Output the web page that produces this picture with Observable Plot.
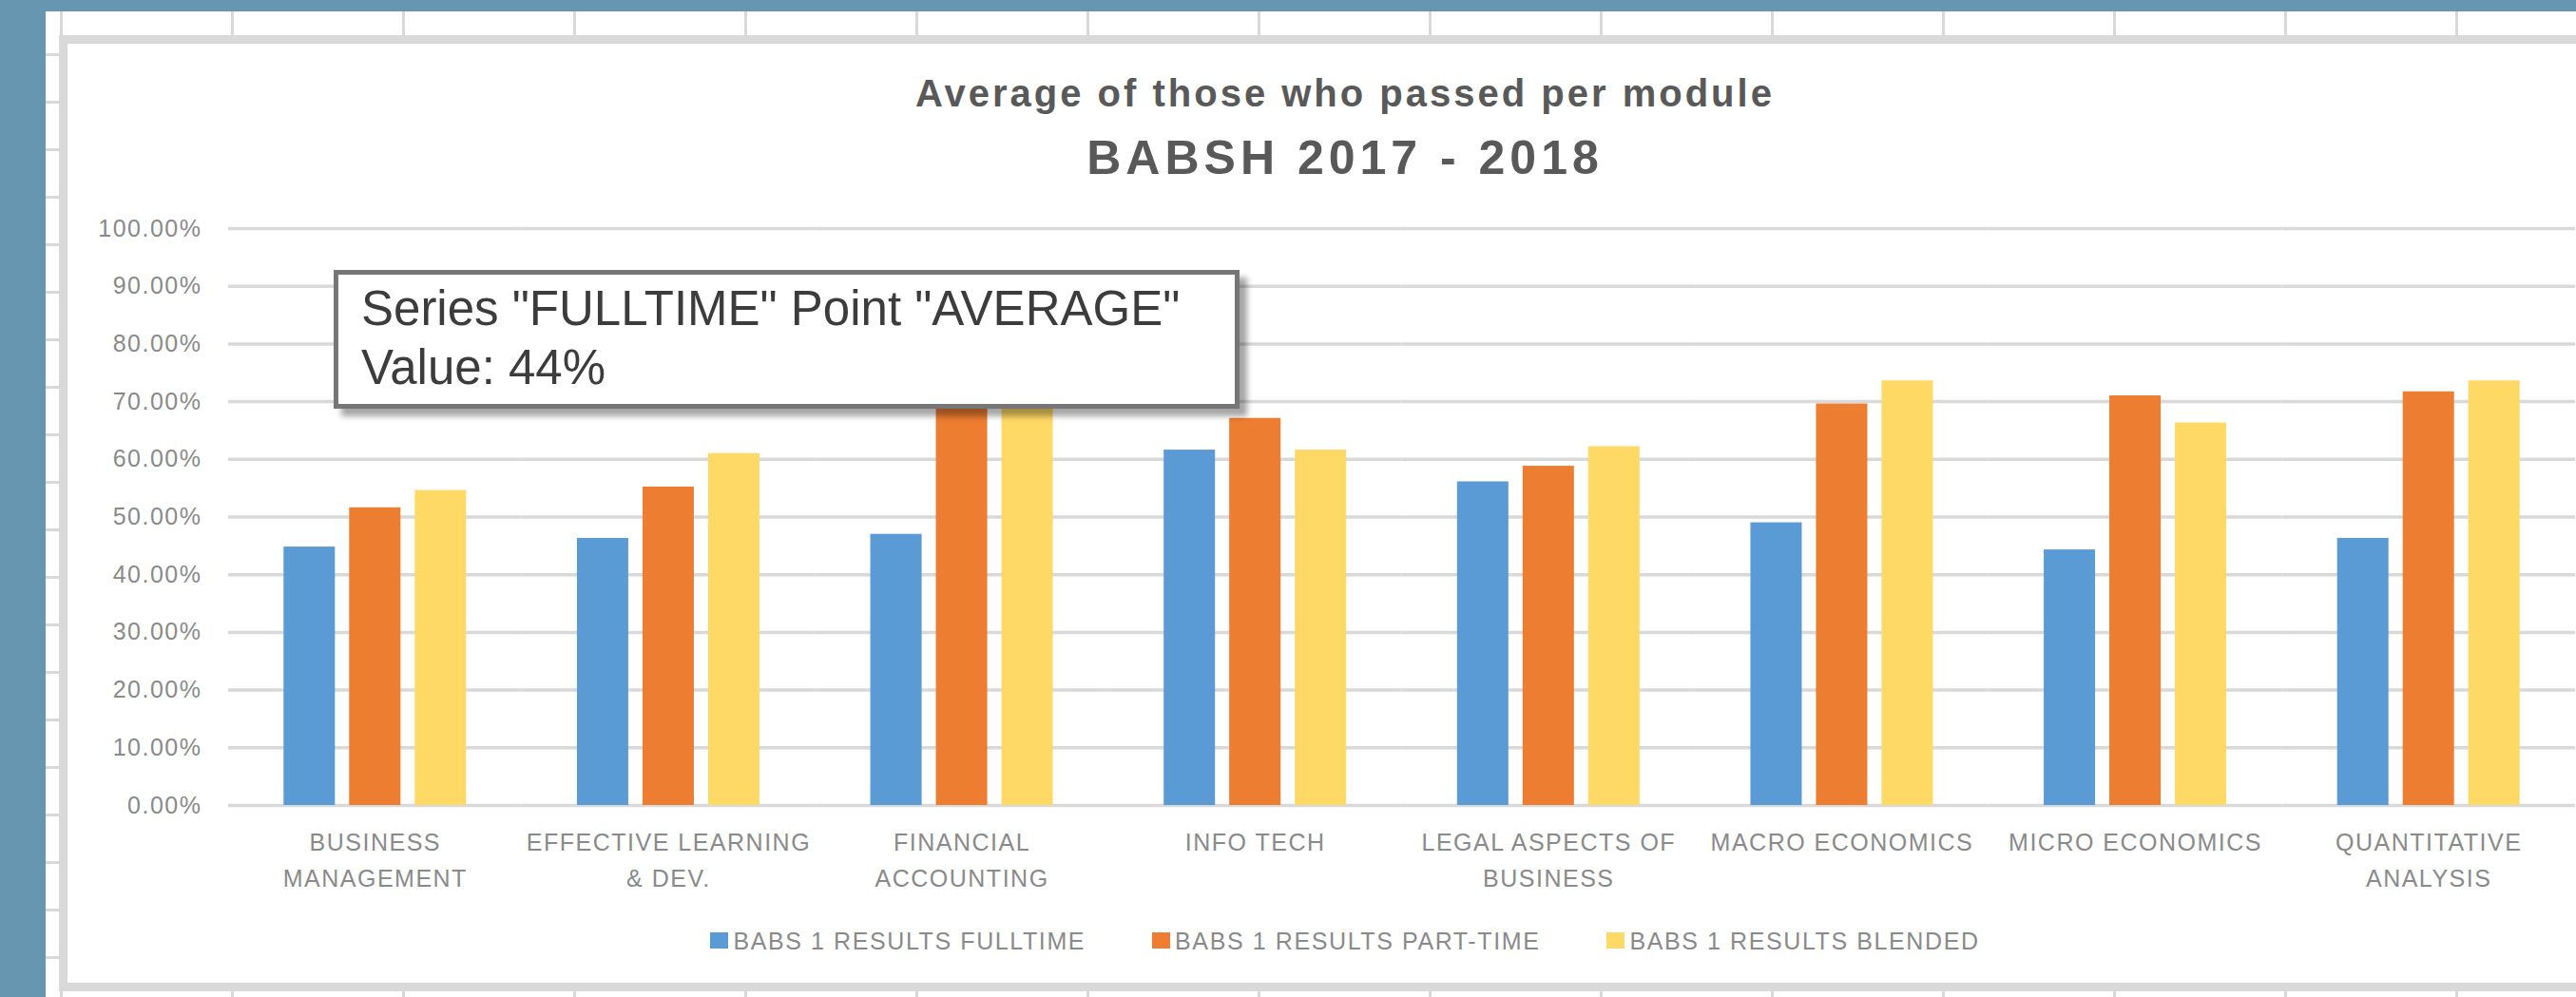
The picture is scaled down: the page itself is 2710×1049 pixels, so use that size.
<!DOCTYPE html>
<html>
<head>
<meta charset="utf-8">
<script src="https://cdn.jsdelivr.net/npm/d3@7"></script>
<script src="https://cdn.jsdelivr.net/npm/@observablehq/plot@0.6"></script>
<style>
  html, body { margin: 0; padding: 0; width: 2710px; height: 1049px; overflow: hidden; background: #ffffff; position: relative; }
  .abs { position: absolute; }
  .title1 { font-family: "Liberation Sans", Arial, sans-serif; font-weight: bold; font-size: 40px; line-height: 40px; color: #595959; letter-spacing: 3px; text-align: center; white-space: nowrap; }
  .title2 { font-family: "Liberation Sans", Arial, sans-serif; font-weight: bold; font-size: 50px; line-height: 50px; color: #595959; letter-spacing: 5px; text-align: center; white-space: nowrap; }
  .legend { display: flex; justify-content: center; align-items: center; font-family: "Liberation Sans", Arial, sans-serif; font-size: 25px; line-height: 25px; letter-spacing: 1.6px; color: #8a8a8a; white-space: nowrap; }
  .legend .item { display: flex; align-items: center; margin: 0 35px; }
  .legend .sw { width: 19px; height: 17px; margin-right: 5px; position: relative; top: -1px; }
  .tooltip { box-sizing: border-box; background: #ffffff; border: 5px solid #767676; box-shadow: 8px 8px 6px rgba(0,0,0,0.35); font-family: "Liberation Sans", Arial, sans-serif; font-size: 51px; line-height: 62px; color: #3c3c3c; padding: 5px 0 0 24px; white-space: nowrap; }
</style>
</head>
<body>
<script>
// ---------- data ----------
const categories = ["BUSINESS MANAGEMENT", "EFFECTIVE LEARNING & DEV.", "FINANCIAL ACCOUNTING", "INFO TECH", "LEGAL ASPECTS OF BUSINESS", "MACRO ECONOMICS", "MICRO ECONOMICS", "QUANTITATIVE ANALYSIS"];
const categoryLabels = ["BUSINESS\nMANAGEMENT", "EFFECTIVE LEARNING\n& DEV.", "FINANCIAL\nACCOUNTING", "INFO TECH", "LEGAL ASPECTS OF\nBUSINESS", "MACRO ECONOMICS", "MICRO ECONOMICS", "QUANTITATIVE\nANALYSIS"];
const seriesNames = ["BABS 1 RESULTS FULLTIME", "BABS 1 RESULTS PART-TIME", "BABS 1 RESULTS BLENDED"];
const fulltime = [44.8, 46.3, 47.0, 61.6, 56.1, 49.0, 44.3, 46.3];
const parttime = [51.6, 55.2, 72.0, 67.1, 58.8, 69.6, 71.0, 71.7];
const blended  = [54.6, 61.0, 73.0, 61.6, 62.2, 73.6, 66.3, 73.6];
const yTicks = [0, 0.1, 0.2, 0.3, 0.4, 0.5, 0.6, 0.7, 0.8, 0.9, 1.0];
const seriesColors = ["#5B9BD5", "#ED7D31", "#FFD966"];
const titleLine1 = "Average of those who passed per module";
const titleLine2 = "BABSH 2017 - 2018";
const tooltipLine1 = 'Series "FULLTIME" Point "AVERAGE"';
const tooltipLine2 = "Value: 44%";

// ---------- spreadsheet background (decorative) ----------
function box(left, top, width, height, bg) {
  const d = document.createElement("div");
  d.className = "abs";
  Object.assign(d.style, { left: left + "px", top: top + "px", width: width + "px", height: height + "px", background: bg });
  document.body.appendChild(d);
  return d;
}
for (let x = 64; x < 2710; x += 180) box(x - 1, 12, 3, 1037, "#d9d9d9");
for (let y = 57; y < 1049; y += 50) box(48, y - 1, 16, 3, "#d9d9d9");
box(0, 0, 2710, 12, "#6797b0");
box(0, 0, 48, 1049, "#6797b0");
// chart frame
box(62, 37, 2800, 1006, "#d9d9d9");
box(71, 46, 2800, 988, "#ffffff");

// ---------- titles ----------
const t1 = document.createElement("div");
t1.className = "abs title1";
Object.assign(t1.style, { left: "0px", top: "78px", width: "2830px" });
t1.textContent = titleLine1;
document.body.appendChild(t1);
const t2 = document.createElement("div");
t2.className = "abs title2";
Object.assign(t2.style, { left: "0px", top: "141px", width: "2830px" });
t2.textContent = titleLine2;
document.body.appendChild(t2);

// ---------- chart ----------
const data = [];
const seriesValues = [fulltime, parttime, blended];
categories.forEach((c, i) => {
  seriesNames.forEach((s, j) => data.push({ module: c, series: s, value: seriesValues[j][i] / 100 }));
});

const FONT = '"Liberation Sans", Arial, sans-serif';
const chart = Plot.plot({
  width: 2638,
  height: 911,
  marginLeft: 169,
  marginRight: 0,
  marginTop: 194,
  marginBottom: 110,
  style: { fontFamily: FONT, fontSize: "25px", letterSpacing: "1.5px", color: "#8a8a8a", background: "transparent", overflow: "visible" },
  fx: { domain: categories, padding: 0, round: false, label: null },
  x: { domain: seriesNames, paddingInner: 0.217, paddingOuter: 0.845, round: false, axis: null, label: null },
  y: { domain: [0, 1], label: null },
  color: { domain: seriesNames, range: seriesColors },
  marks: [
    Plot.gridY(yTicks, { stroke: "#d9d9d9", strokeOpacity: 1, strokeWidth: 3.5 }),
    Plot.barY(data, { fx: "module", x: "series", y: "value", fill: "series" }),
    Plot.axisY(yTicks, { tickSize: 0, tickPadding: 28, tickFormat: d3.format(".2%"), label: null }),
    Plot.axisFx({ anchor: "bottom", tickSize: 0, tickPadding: 21, lineHeight: 1.52, label: null,
      tickFormat: d => categoryLabels[categories.indexOf(d)] })
  ]
});
chart.style.position = "absolute";
chart.style.left = "71px";
chart.style.top = "46px";
document.body.appendChild(chart);

// ---------- legend ----------
const legend = document.createElement("div");
legend.className = "abs legend";
Object.assign(legend.style, { left: "0px", top: "978px", width: "2830px", height: "25px" });
seriesNames.forEach((s, j) => {
  const item = document.createElement("div");
  item.className = "item";
  const sw = document.createElement("span");
  sw.className = "sw";
  sw.style.background = seriesColors[j];
  const tx = document.createElement("span");
  tx.textContent = s;
  item.appendChild(sw);
  item.appendChild(tx);
  legend.appendChild(item);
});
document.body.appendChild(legend);

// ---------- tooltip ----------
const tip = document.createElement("div");
tip.className = "abs tooltip";
Object.assign(tip.style, { left: "351px", top: "284px", width: "953px", height: "146px" });
const l1 = document.createElement("div"); l1.textContent = tooltipLine1;
const l2 = document.createElement("div"); l2.textContent = tooltipLine2;
tip.appendChild(l1); tip.appendChild(l2);
document.body.appendChild(tip);
</script>
</body>
</html>
